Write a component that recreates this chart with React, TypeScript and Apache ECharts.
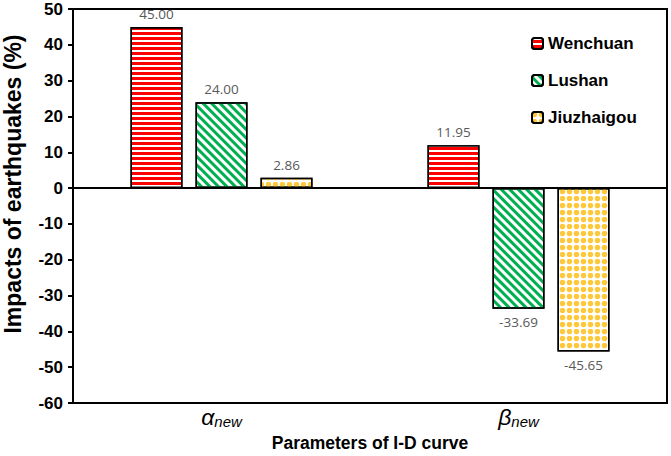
import React, { useEffect, useRef } from "react";
import * as echarts from "echarts";

const categories = ["alpha", "beta"];
const seriesNames = ["Wenchuan", "Lushan", "Jiuzhaigou"];
const wenchuan = [45.0, 11.95];
const lushan = [24.0, -33.69];
const jiuzhaigou = [2.86, -45.65];
const yTicks = { min: -60, max: 50, interval: 10 };

export default function App() {
  const ref = useRef<HTMLDivElement>(null);
  useEffect(() => {
    if (!ref.current) return;
    const chart = echarts.init(ref.current, undefined, { renderer: "svg" });
    const mkData = (vals: number[]) =>
      vals.map((v) => ({
        value: v,
        label: { position: v >= 0 ? "top" : "bottom" },
      }));
    const labelCommon = {
      show: true,
      formatter: (p: any) => Number(p.value).toFixed(2),
      color: "#595959",
      fontSize: 13.5,
      fontFamily: "Open Sans",
      distance: 6,
    };
    const border = { borderColor: "#000", borderWidth: 1.5 };
    const option: any = {
      animation: false,
      backgroundColor: "#fff",
      grid: {
        left: 73,
        right: 4,
        top: 9,
        bottom: 53,
        show: true,
        borderColor: "#000",
        borderWidth: 2,
        backgroundColor: "transparent",
        outerBoundsMode: "none",
        containLabel: false,
      },
      legend: {
        orient: "vertical",
        left: 526,
        top: 30,
        itemWidth: 11,
        itemHeight: 11,
        itemGap: 20,
        textStyle: {
          fontFamily: "Liberation Sans",
          fontWeight: "bold",
          fontSize: 17,
          color: "#000",
        },
        data: seriesNames,
      },
      xAxis: {
        type: "category",
        data: categories,
        axisLine: { onZero: false, lineStyle: { color: "#000", width: 2 } },
        axisTick: { show: false },
        axisLabel: {
          margin: 1,
          formatter: (v: string) =>
            v === "alpha" ? "{g|α}{s|new}" : "{g|β}{s|new}",
          rich: {
            g: {
              fontFamily: "Liberation Sans",
              fontStyle: "italic",
              fontSize: 23,
              color: "#000",
            },
            s: {
              fontFamily: "Liberation Sans",
              fontStyle: "italic",
              fontSize: 15,
              color: "#000",
              padding: [10, 0, 0, 0],
            },
          },
        },
        name: "Parameters of I-D curve",
        nameLocation: "middle",
        nameGap: 26,
        nameTextStyle: {
          fontFamily: "Liberation Sans",
          fontWeight: "bold",
          fontSize: 17.5,
          color: "#000",
        },
      },
      yAxis: {
        type: "value",
        min: yTicks.min,
        max: yTicks.max,
        interval: yTicks.interval,
        splitLine: { show: false },
        axisLine: { show: true, lineStyle: { color: "#000", width: 2 } },
        axisTick: { show: true, length: 5, lineStyle: { color: "#000", width: 2 } },
        axisLabel: {
          margin: 10,
          fontFamily: "Liberation Sans",
          fontWeight: "bold",
          fontSize: 17,
          color: "#000",
        },
        name: "Impacts of earthquakes (%)",
        nameLocation: "middle",
        nameGap: 49,
        nameTextStyle: {
          fontFamily: "Liberation Sans",
          fontWeight: "bold",
          fontSize: 23,
          color: "#000",
          padding: [0, 0, 0, 44],
        },
      },
      series: [
        {
          name: seriesNames[0],
          type: "bar",
          barWidth: 52,
          barGap: "25%",
          data: mkData(wenchuan),
          label: labelCommon,
          itemStyle: {
            color: "#ff0000",
            ...border,
            decal: {
              symbol: "rect",
              color: "#ffffff",
              dashArrayX: [1, 0],
              dashArrayY: [2, 3],
              symbolSize: 1,
              rotation: 0,
            },
          },
          markLine: {
            silent: true,
            symbol: "none",
            label: { show: false },
            lineStyle: { color: "#000", width: 2, type: "solid" },
            data: [{ yAxis: 0 }],
          },
        },
        {
          name: seriesNames[1],
          type: "bar",
          barWidth: 52,
          barGap: "25%",
          data: mkData(lushan),
          label: labelCommon,
          itemStyle: {
            color: "#ffffff",
            ...border,
            decal: {
              symbol: "rect",
              color: "#00b050",
              dashArrayX: [1, 0],
              dashArrayY: [3, 3],
              symbolSize: 1,
              rotation: Math.PI / 4,
            },
          },
        },
        {
          name: seriesNames[2],
          type: "bar",
          barWidth: 52,
          barGap: "25%",
          data: mkData(jiuzhaigou),
          label: labelCommon,
          itemStyle: {
            color: "#ffffff",
            ...border,
            decal: {
              symbol: "circle",
              color: "#ffc83a",
              dashArrayX: [5, 2],
              dashArrayY: [5, 2],
              symbolSize: 1.1,
              rotation: 0,
            },
          },
        },
      ],
    };
    chart.setOption(option);
    return () => chart.dispose();
  }, []);
  return (
    <div
      ref={ref}
      style={{ position: "absolute", left: 0, top: 0, width: 671, height: 456 }}
    />
  );
}
